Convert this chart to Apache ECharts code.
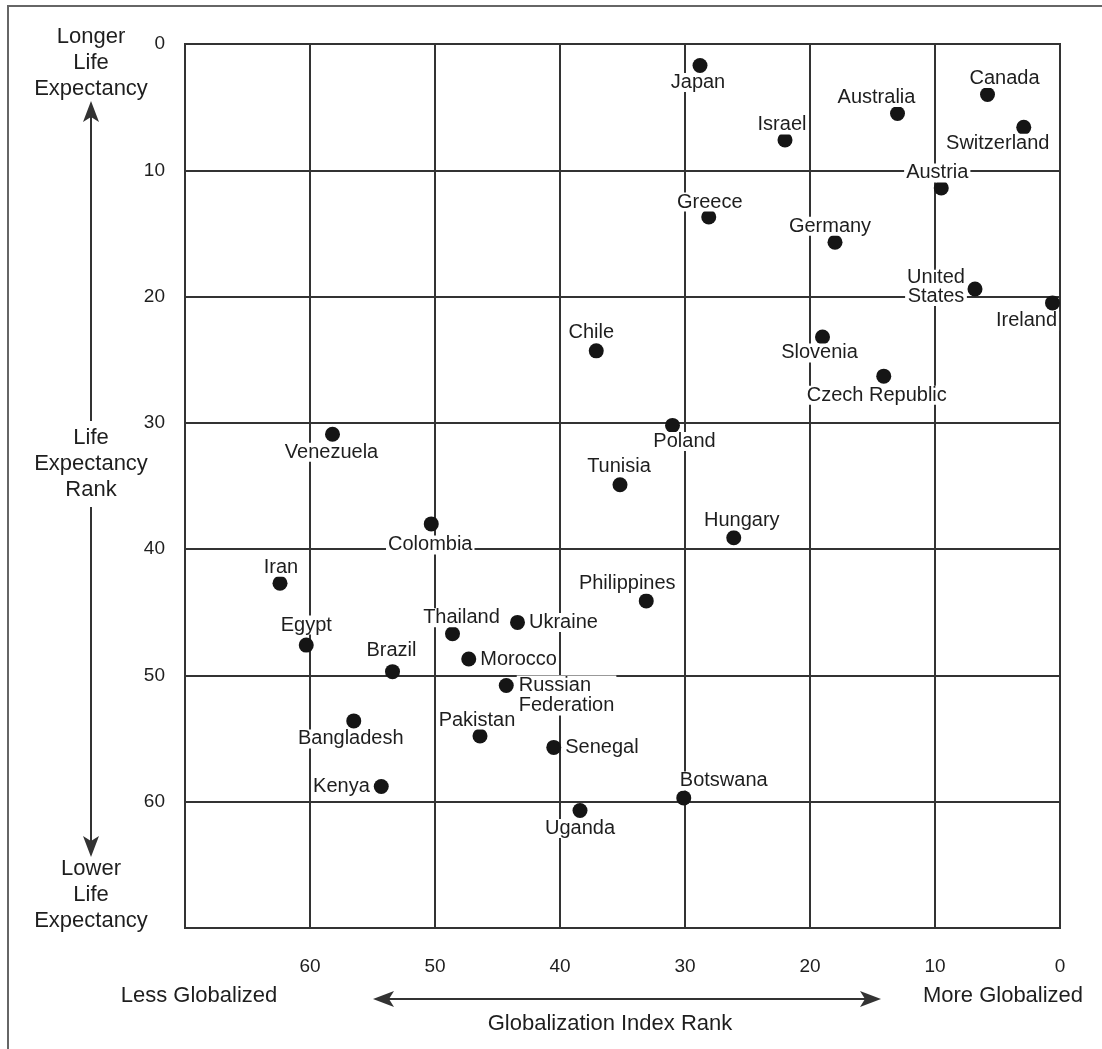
<!DOCTYPE html>
<html>
<head>
<meta charset="utf-8">
<title>Globalization vs Life Expectancy</title>
<script src="https://cdn.jsdelivr.net/npm/echarts@6/dist/echarts.min.js"></script>
<style>
  html, body { margin: 0; padding: 0; background: #fff; }
  #chart { width: 1102px; height: 1049px; }
</style>
</head>
<body>
<div id="chart"></div>
<script>
// values
const countries = [
  'Japan', 'Israel', 'Greece', 'Germany', 'Australia', 'Canada', 'Switzerland', 'Austria',
  'United\nStates', 'Ireland', 'Slovenia', 'Czech Republic', 'Chile', 'Poland', 'Tunisia', 'Hungary',
  'Venezuela', 'Colombia', 'Iran', 'Egypt', 'Brazil', 'Bangladesh', 'Kenya', 'Thailand',
  'Ukraine', 'Morocco', 'Russian\nFederation', 'Pakistan', 'Senegal', 'Philippines', 'Botswana', 'Uganda'
]
const globalRank = [
  28.8, 22.0, 28.1, 18.0, 13.0, 5.8, 2.9, 9.5,
  6.8, 0.6, 19.0, 14.1, 37.1, 31.0, 35.2, 26.1,
  58.2, 50.3, 62.4, 60.3, 53.4, 56.5, 54.3, 48.6,
  43.4, 47.3, 44.3, 46.4, 40.5, 33.1, 30.1, 38.4
]
const lifeRank = [
  1.7, 7.6, 13.7, 15.7, 5.5, 4.0, 6.6, 11.4,
  19.4, 20.5, 23.2, 26.3, 24.3, 30.2, 34.9, 39.1,
  30.9, 38.0, 42.7, 47.6, 49.7, 53.6, 58.8, 46.7,
  45.8, 48.7, 50.8, 54.8, 55.7, 44.1, 59.7, 60.7
]
const tickValues = [0, 10, 20, 30, 40, 50, 60]

// where each name sits relative to its dot
const labelPlace = {
  'Japan': [-2, 17], 'Israel': [-3, -15], 'Greece': [1, -15], 'Germany': [-5, -16],
  'Australia': [-21, -16], 'Canada': [17, -16], 'Switzerland': [-26, 16], 'Austria': [-4, -15],
  'United\nStates': [-39, -2], 'Ireland': [-26, 18], 'Slovenia': [-3, 16], 'Czech Republic': [-7, 19],
  'Chile': [-5, -18], 'Poland': [12, 16], 'Tunisia': [-1, -18], 'Hungary': [8, -17],
  'Venezuela': [-1, 18], 'Colombia': [-1, 21], 'Iran': [1, -16], 'Egypt': [0, -20],
  'Brazil': [-1, -21], 'Bangladesh': [-3, 18], 'Thailand': [9, -16], 'Pakistan': [-3, -16],
  'Philippines': [-19, -17], 'Botswana': [40, -17], 'Uganda': [0, 18]
}
const rightSide = ['Ukraine', 'Morocco', 'Senegal']

const font = 'Liberation Sans, Arial, Helvetica, sans-serif'
const ink = '#1e1e1e'
const lineColor = '#333'

function labelFor(name) {
  const base = {
    show: true,
    formatter: '{b}',
    color: ink,
    opacity: 1,
    fontSize: 20,
    fontFamily: font,
    lineHeight: 19,
    backgroundColor: '#fff',
    padding: [0, 2]
  }
  if (name === 'Kenya') {
    return Object.assign(base, { position: 'left', distance: 2 })
  }
  if (rightSide.indexOf(name) >= 0) {
    return Object.assign(base, { position: 'right', distance: 2 })
  }
  if (name === 'Russian\nFederation') {
    return Object.assign(base, { position: 'right', distance: 3, verticalAlign: 'top', offset: [0, -10], lineHeight: 20 })
  }
  return Object.assign(base, {
    position: 'inside',
    align: 'center',
    verticalAlign: 'middle',
    offset: labelPlace[name] || [0, 0]
  })
}

const points = countries.map((name, i) => ({
  name: name,
  value: [globalRank[i], lifeRank[i]],
  label: labelFor(name)
}))

function arrowHead(tip, dir) {
  // notched arrow head, dir: 'up' | 'down' | 'left' | 'right'
  const [x, y] = tip
  const L = 21, W = 8, N = 5
  let pts
  if (dir === 'up') pts = [[x, y], [x - W, y + L], [x, y + L - N], [x + W, y + L]]
  if (dir === 'down') pts = [[x, y], [x - W, y - L], [x, y - L + N], [x + W, y - L]]
  if (dir === 'left') pts = [[x, y], [x + L, y - W], [x + L - N, y], [x + L, y + W]]
  if (dir === 'right') pts = [[x, y], [x - L, y - W], [x - L + N, y], [x - L, y + W]]
  return { type: 'polygon', shape: { points: pts }, style: { fill: lineColor }, z: 10 }
}

function seg(x1, y1, x2, y2) {
  return { type: 'line', shape: { x1, y1, x2, y2 }, style: { stroke: lineColor, lineWidth: 2 }, z: 10 }
}

function note(text, x, y) {
  return {
    type: 'text',
    x: x,
    y: y,
    style: {
      text: text,
      fill: ink,
      font: '22px ' + font,
      align: 'center',
      verticalAlign: 'middle',
      lineHeight: 26
    },
    z: 10
  }
}

const chart = echarts.init(document.getElementById('chart'), null, { renderer: 'canvas' })

chart.setOption({
  backgroundColor: '#fff',
  animation: false,
  grid: {
    left: 185,
    top: 44,
    right: 42,
    bottom: 121,
    show: true,
    borderColor: lineColor,
    borderWidth: 2
  },
  xAxis: {
    type: 'value',
    inverse: true,
    min: 0,
    max: 70,
    interval: 10,
    axisLine: { show: true, lineStyle: { color: lineColor, width: 2 } },
    axisTick: { show: true, length: 20, customValues: tickValues, lineStyle: { color: lineColor, width: 2 } },
    axisLabel: { customValues: tickValues, margin: 29, color: ink, fontSize: 19, fontFamily: font },
    splitLine: { show: true, lineStyle: { color: lineColor, width: 2 } }
  },
  yAxis: {
    type: 'value',
    inverse: true,
    min: 0,
    max: 70,
    interval: 10,
    axisLine: { show: true, lineStyle: { color: lineColor, width: 2 } },
    axisTick: { show: true, length: 15, customValues: tickValues, lineStyle: { color: lineColor, width: 2 } },
    axisLabel: { customValues: tickValues, margin: 20, color: ink, fontSize: 19, fontFamily: font },
    splitLine: { show: true, lineStyle: { color: lineColor, width: 2 } }
  },
  series: [{
    type: 'scatter',
    symbol: 'circle',
    symbolSize: 15,
    itemStyle: { color: '#151515', opacity: 1 },
    emphasis: { disabled: true },
    data: points
  }],
  graphic: [
    // frame around the figure
    { type: 'rect', shape: { x: 8, y: 6, width: 1300, height: 1300 }, style: { fill: 'none', stroke: '#666', lineWidth: 2 }, z: 10 },
    // vertical axis annotation
    note('Longer\nLife\nExpectancy', 91, 63),
    arrowHead([91, 101], 'up'),
    seg(91, 116, 91, 421),
    note('Life\nExpectancy\nRank', 91, 464),
    seg(91, 507, 91, 842),
    arrowHead([91, 857], 'down'),
    note('Lower\nLife\nExpectancy', 91, 895),
    // horizontal axis annotation
    note('Less Globalized', 199, 996),
    note('More Globalized', 1003, 996),
    seg(388, 999, 866, 999),
    arrowHead([373, 999], 'left'),
    arrowHead([881, 999], 'right'),
    note('Globalization Index Rank', 610, 1024)
  ]
})
</script>
</body>
</html>
